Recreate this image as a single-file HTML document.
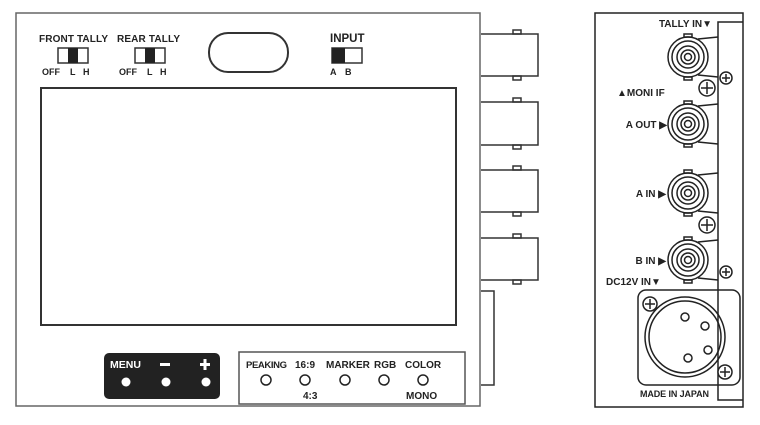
<!DOCTYPE html>
<html><head><style>
body{margin:0;background:#fff;}
svg text{font-family:"Liberation Sans",sans-serif;font-weight:bold;fill:#222;}
</style></head><body>
<svg width="760" height="420" viewBox="0 0 760 420" xmlns="http://www.w3.org/2000/svg">
<g fill="none" stroke="#333" stroke-width="1.5">
<rect x="16" y="13" width="464" height="393" stroke="#666"/>
<rect x="41" y="88" width="415" height="237" stroke-width="2"/>
<rect x="209" y="33" width="79" height="39" rx="19" stroke-width="2"/>
<rect x="58" y="48" width="30" height="15"/>
<rect x="135" y="48" width="30" height="15"/>
<rect x="332" y="48" width="30" height="15"/>
</g>
<rect x="68" y="48" width="10" height="15" fill="#222"/>
<rect x="145" y="48" width="10" height="15" fill="#222"/>
<rect x="332" y="48" width="13" height="15" fill="#222"/>
<text x="39" y="42" font-size="10" textLength="69">FRONT TALLY</text>
<text x="117" y="42" font-size="10" textLength="63">REAR TALLY</text>
<text x="330" y="42" font-size="11.5">INPUT</text>
<g font-size="9">
<text x="42" y="75">OFF</text><text x="70" y="75">L</text><text x="83" y="75">H</text>
<text x="119" y="75">OFF</text><text x="147" y="75">L</text><text x="160" y="75">H</text>
<text x="330" y="75">A</text><text x="345" y="75">B</text>
</g>
<g fill="none" stroke="#333" stroke-width="1.5">
<path d="M481 34 H538 V76 H481"/><rect x="513" y="30" width="8" height="4"/><rect x="513" y="76" width="8" height="4"/>
<path d="M481 102 H538 V145 H481"/><rect x="513" y="98" width="8" height="4"/><rect x="513" y="145" width="8" height="4"/>
<path d="M481 170 H538 V212 H481"/><rect x="513" y="166" width="8" height="4"/><rect x="513" y="212" width="8" height="4"/>
<path d="M481 238 H538 V280 H481"/><rect x="513" y="234" width="8" height="4"/><rect x="513" y="280" width="8" height="4"/>
<path d="M481 291 H494 V385 H481"/>
</g>
<rect x="104" y="353" width="116" height="46" rx="5" fill="#222"/>
<text x="110" y="368" font-size="10.5" style="fill:#fff">MENU</text>
<rect x="160" y="363" width="10" height="3" fill="#fff"/>
<rect x="200" y="363" width="10" height="3" fill="#fff"/><rect x="203.5" y="359" width="3" height="11" fill="#fff"/>
<circle cx="126" cy="382" r="4.5" fill="#fff"/><circle cx="166" cy="382" r="4.5" fill="#fff"/><circle cx="206" cy="382" r="4.5" fill="#fff"/>
<rect x="239" y="352" width="226" height="52" fill="none" stroke="#555" stroke-width="1.5"/>
<g font-size="10"><text x="246" y="368" font-size="9.5" textLength="41">PEAKING</text><text x="295" y="368">16:9</text><text x="326" y="368">MARKER</text><text x="374" y="368">RGB</text><text x="405" y="368">COLOR</text><text x="303" y="399">4:3</text><text x="406" y="399">MONO</text></g>
<g fill="none" stroke="#222" stroke-width="1.5"><circle cx="266" cy="380" r="5"/><circle cx="305" cy="380" r="5"/><circle cx="345" cy="380" r="5"/><circle cx="384" cy="380" r="5"/><circle cx="423" cy="380" r="5"/></g>
<g fill="none" stroke="#222" stroke-width="1.5">
<rect x="595" y="13" width="148" height="394"/>
<path d="M743 22 H718 V400 H743"/>
</g>
<g fill="none" stroke="#222" stroke-width="1.5">
<g transform="translate(688,57)"><circle r="20"/><circle r="16"/><circle r="11"/><circle r="7"/><circle r="3.5"/><rect x="-4" y="-23" width="8" height="3"/><rect x="-4" y="20" width="8" height="3"/><path d="M10 -18 L30 -20 M10 18 L30 20"/></g>
<g transform="translate(688,124)"><circle r="20"/><circle r="16"/><circle r="11"/><circle r="7"/><circle r="3.5"/><rect x="-4" y="-23" width="8" height="3"/><rect x="-4" y="20" width="8" height="3"/><path d="M10 -18 L30 -20 M10 18 L30 20"/></g>
<g transform="translate(688,193)"><circle r="20"/><circle r="16"/><circle r="11"/><circle r="7"/><circle r="3.5"/><rect x="-4" y="-23" width="8" height="3"/><rect x="-4" y="20" width="8" height="3"/><path d="M10 -18 L30 -20 M10 18 L30 20"/></g>
<g transform="translate(688,260)"><circle r="20"/><circle r="16"/><circle r="11"/><circle r="7"/><circle r="3.5"/><rect x="-4" y="-23" width="8" height="3"/><rect x="-4" y="20" width="8" height="3"/><path d="M10 -18 L30 -20 M10 18 L30 20"/></g>
<circle cx="726" cy="78" r="6"/><path d="M722 78 H730 M726 74 V82"/>
<circle cx="726" cy="272" r="6"/><path d="M722 272 H730 M726 268 V276"/>
<circle cx="707" cy="88" r="8"/><path d="M701 88 H713 M707 82 V94"/>
<circle cx="707" cy="225" r="8"/><path d="M701 225 H713 M707 219 V231"/>
<rect x="638" y="290" width="102" height="95" rx="8"/>
<circle cx="685" cy="337" r="40"/><circle cx="685" cy="337" r="36"/>
<circle cx="650" cy="304" r="7" fill="#fff"/><path d="M645 304 H655 M650 299 V309"/>
<circle cx="725" cy="372" r="7" fill="#fff"/><path d="M720 372 H730 M725 367 V377"/>
<circle cx="685" cy="317" r="4"/><circle cx="705" cy="326" r="4"/><circle cx="708" cy="350" r="4"/><circle cx="688" cy="358" r="4"/>
</g>
<g font-size="10">
<text x="712" y="27" text-anchor="end">TALLY IN▼</text>
<text x="617" y="96">▲MONI IF</text>
<text x="667" y="128" text-anchor="end">A OUT ▶</text>
<text x="666" y="197" text-anchor="end">A IN ▶</text>
<text x="666" y="264" text-anchor="end">B IN ▶</text>
<text x="606" y="285">DC12V IN▼</text>
<text x="640" y="397" font-size="9" textLength="69">MADE IN JAPAN</text>
</g>
</svg>
</body></html>
